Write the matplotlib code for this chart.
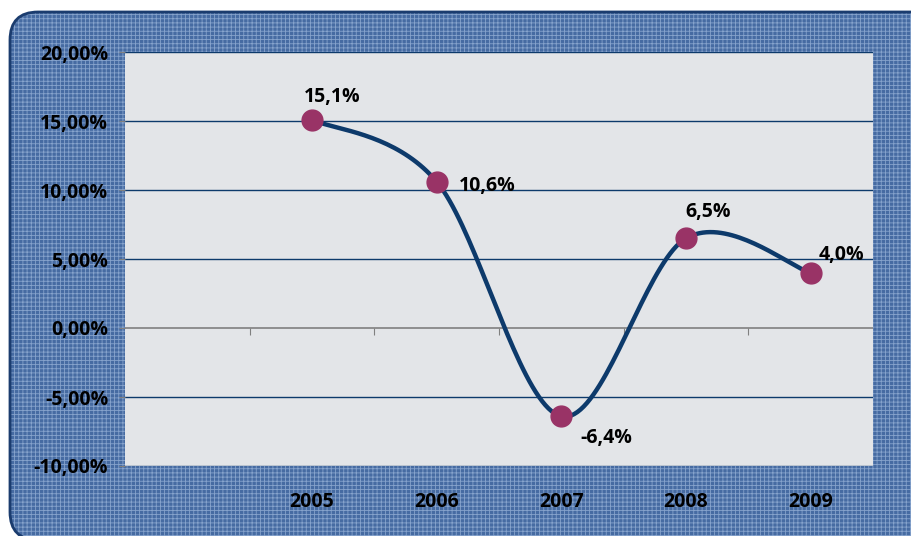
import numpy as np
import matplotlib.pyplot as plt
from matplotlib.patches import FancyBboxPatch

plt.rcParams['font.family'] = ['Open Sans', 'DejaVu Sans']
plt.rcParams['hatch.linewidth'] = 0.6

# data
years = ['', '2005', '2006', '2007', '2008', '2009']
values = [15.1, 10.6, -6.4, 6.5, 4.0]
labels = ['15,1%', '10,6%', '-6,4%', '6,5%', '4,0%']
yticks = [-10, -5, 0, 5, 10, 15, 20]
ytick_labels = ['-10,00%', '-5,00%', '0,00%', '5,00%', '10,00%', '15,00%', '20,00%']
# label offsets in pixels (dx, dy) and horizontal alignment
label_pos = [(20, 23, 'center'), (22, -4, 'left'), (19, -22, 'left'),
             (22, 26, 'center'), (31, 18, 'center')]

navy = '#0d3a6b'
marker_col = '#993366'
fs = 14

fig = plt.figure(figsize=(9.12, 5.36), dpi=100)

# blue rounded background in pixel units
bg = fig.add_axes([0, 0, 1, 1])
bg.set_xlim(0, 912)
bg.set_ylim(0, 536)
bg.axis('off')
plt.rcParams['hatch.color'] = '#86a3cc'
box = FancyBboxPatch((10, -4), 940, 528, boxstyle='round,pad=0,rounding_size=28',
                     facecolor='#466ba2', edgecolor='#86a3cc', linewidth=0,
                     hatch='++++')
bg.add_patch(box)
border = FancyBboxPatch((10, -4), 940, 528, boxstyle='round,pad=0,rounding_size=28',
                        facecolor='none', edgecolor='#1b3c6e', linewidth=2)
bg.add_patch(border)

ax = fig.add_axes([125 / 912, 70 / 536, 748 / 912, 414 / 536])
ax.set_facecolor('#e3e5e8')
ax.set_xlim(0, 6)
ax.set_ylim(-10, 20)
for s in ax.spines.values():
    s.set_visible(False)

for yv in yticks:
    if yv != 0:
        ax.axhline(yv, color=navy, lw=1, zorder=1)
ax.axhline(0, color='#808080', lw=1.2, zorder=1)

ax.set_yticks(yticks)
ax.set_yticklabels(ytick_labels, fontsize=fs, fontweight='bold')
ax.tick_params(axis='y', length=4, color='#808080', pad=8)

ax.set_xticks(np.arange(len(years)) + 0.5)
ax.set_xticklabels(years, fontsize=fs, fontweight='bold')
ax.tick_params(axis='x', length=0, pad=19)

# tick marks on the zero line
sec = ax.secondary_xaxis(1 / 3)
sec.set_xticks(np.arange(1, 6))
sec.set_xticklabels([])
sec.spines['bottom'].set_visible(False)
sec.tick_params(length=5, color='#808080', direction='out')

# smoothed line (Catmull-Rom in screen-proportional units)
xs = np.arange(1, 6) + 0.5
yscale = 13.8 / 124.5
pts = np.column_stack([xs, np.array(values) * yscale])
pad = np.vstack([pts[0], pts, pts[-1]])
curve = []
t = np.linspace(0, 1, 40)
for i in range(1, len(pad) - 2):
    p0, p1, p2, p3 = pad[i - 1], pad[i], pad[i + 1], pad[i + 2]
    c1 = p1 + (p2 - p0) / 6
    c2 = p2 - (p3 - p1) / 6
    seg = ((1 - t) ** 3)[:, None] * p1 + (3 * (1 - t) ** 2 * t)[:, None] * c1 \
        + (3 * (1 - t) * t ** 2)[:, None] * c2 + (t ** 3)[:, None] * p2
    curve.append(seg)
curve = np.vstack(curve)
ax.plot(curve[:, 0], curve[:, 1] / yscale, color=navy, lw=3.2, zorder=3,
        solid_capstyle='round')
ax.plot(xs, values, 'o', color=marker_col, markersize=15, zorder=4)

for x, v, lab, (dx, dy, ha) in zip(xs, values, labels, label_pos):
    ax.annotate(lab, (x, v), xytext=(dx, dy), textcoords='offset pixels',
                ha=ha, va='center', fontsize=fs, fontweight='bold', zorder=5)

fig.savefig('out.png', dpi=100)
